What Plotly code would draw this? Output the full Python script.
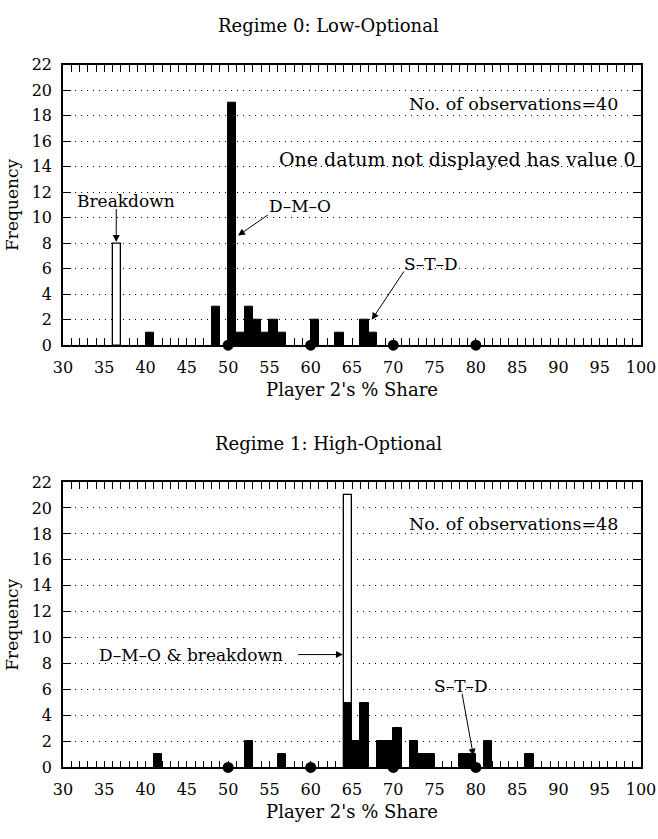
import plotly.graph_objects as go

# ---------------- data ----------------
top_title = "Regime 0: Low-Optional"
bottom_title = "Regime 1: High-Optional"
x_title = "Player 2's % Share"
y_title = "Frequency"

x_tick_labels = ["30", "35", "40", "45", "50", "55", "60", "65", "70", "75", "80", "85", "90", "95", "100"]
y_tick_labels = ["0", "2", "4", "6", "8", "10", "12", "14", "16", "18", "20", "22"]

# Regime 0 (bins start at the listed value, width 1)
top_open_bins = [36]
top_open_freq = [8]
top_solid_bins = [40, 48, 50, 51, 52, 53, 54, 55, 56, 60, 63, 66, 67]
top_solid_freq = [1, 3, 19, 1, 3, 2, 1, 2, 1, 2, 1, 2, 1]
top_points = [50, 60, 70, 80]

# Regime 1
bottom_open_bins = [64]
bottom_open_freq = [21]
bottom_solid_bins = [41, 52, 56, 64, 65, 66, 68, 69, 70, 72, 73, 74, 78, 79, 81, 86]
bottom_solid_freq = [1, 2, 1, 5, 2, 5, 2, 2, 3, 2, 1, 1, 1, 1, 2, 1]
bottom_points = [50, 60, 70, 80]

# ---------------- figure ----------------
FONT = "DejaVu Serif"
W, H = 658, 839
fig = go.Figure()

def centers(bins):
    return [b + 0.5 for b in bins]

def add_panel(xa, ya, open_bins, open_freq, solid_bins, solid_freq, points):
    fig.add_trace(go.Bar(x=centers(open_bins), y=open_freq, width=1,
                         marker=dict(color="white", line=dict(color="black", width=1.3)),
                         xaxis=xa, yaxis=ya, showlegend=False))
    fig.add_trace(go.Bar(x=centers(solid_bins), y=solid_freq, width=1,
                         marker=dict(color="black", line=dict(color="black", width=1)),
                         xaxis=xa, yaxis=ya, showlegend=False))
    fig.add_trace(go.Scatter(x=points, y=[0] * len(points), mode="markers",
                             marker=dict(color="black", size=11),
                             cliponaxis=False, xaxis=xa, yaxis=ya, showlegend=False))

add_panel("x", "y", top_open_bins, top_open_freq, top_solid_bins, top_solid_freq, top_points)
add_panel("x2", "y2", bottom_open_bins, bottom_open_freq, bottom_solid_bins, bottom_solid_freq, bottom_points)

x_lo, x_hi = int(x_tick_labels[0]), int(x_tick_labels[-1])
x_tickvals = list(range(x_lo, x_hi + 1))
x_ticktext = [str(v) if str(v) in x_tick_labels else "" for v in x_tickvals]
y_tickvals = [int(v) for v in y_tick_labels]

def px_dom(top_px, bot_px):
    return [1 - bot_px / H, 1 - top_px / H]

xcommon = dict(range=[x_lo, x_hi], tickvals=x_tickvals, ticktext=x_ticktext,
               ticks="inside", ticklen=7, tickwidth=1, tickcolor="black",
               showline=True, linecolor="black", linewidth=1.6, mirror="ticks",
               showgrid=False, zeroline=False, ticklabelstandoff=7,
               tickfont=dict(family=FONT, size=16, color="black"),
               title=dict(text=x_title, font=dict(family=FONT, size=18, color="black"), standoff=7))
ycommon = dict(range=[0, 22], tickvals=y_tickvals, ticktext=y_tick_labels,
               ticks="inside", ticklen=8, tickwidth=1.2, tickcolor="black",
               showline=True, linecolor="black", linewidth=1.6, mirror="ticks",
               showgrid=True, gridcolor="black", gridwidth=1.4, griddash="1.4px,4.6px",
               zeroline=False, ticklabelstandoff=6,
               tickfont=dict(family=FONT, size=16, color="black"),
               title=dict(text=y_title, font=dict(family=FONT, size=17, color="black"), standoff=9))

fig.update_layout(
    width=W, height=H,
    margin=dict(l=63, r=17, t=0, b=0),
    paper_bgcolor="white", plot_bgcolor="white",
    barmode="overlay", bargap=0,
    xaxis=dict(domain=[0, 1], anchor="y", **xcommon),
    yaxis=dict(domain=px_dom(57, 344), anchor="x", **ycommon),
    xaxis2=dict(domain=[0, 1], anchor="y2", **xcommon),
    yaxis2=dict(domain=px_dom(484, 776), anchor="x2", **ycommon),
    font=dict(family=FONT, color="black"),
)

ann_font = dict(family=FONT, size=17, color="black")
arrow = dict(showarrow=True, arrowhead=2, arrowsize=1.4, arrowwidth=1, arrowcolor="black")
annotations = [
    dict(text=top_title, xref="paper", yref="paper", x=0.46, y=1 - 17 / H, showarrow=False,
         font=dict(family=FONT, size=18, color="black"), xanchor="center", yanchor="middle"),
    dict(text=bottom_title, xref="paper", yref="paper", x=0.46, y=1 - 445 / H, showarrow=False,
         font=dict(family=FONT, size=18, color="black"), xanchor="center", yanchor="middle"),
    # top panel
    dict(text="No. of observations=40", xref="x", yref="y", x=97.4, y=18.9, showarrow=False,
         xanchor="right", yanchor="middle", font=dict(family=FONT, size=17.5, color="black")),
    dict(text="One datum not displayed has value 0", xref="x", yref="y", x=99.6, y=14.6, showarrow=False,
         xanchor="right", yanchor="middle", font=dict(family=FONT, size=19, color="black")),
    dict(text="Breakdown", xref="x", yref="y", x=31.4, y=11.3, showarrow=False,
         xanchor="left", yanchor="middle", font=ann_font),
    dict(text="", xref="x", yref="y", x=36.45, y=8.1, ax=36.45, ay=10.8, axref="x", ayref="y", **arrow),
    dict(text="D\u2013M\u2013O", xref="x", yref="y", x=54.7, y=10.9, showarrow=False,
         xanchor="left", yanchor="middle", font=ann_font),
    dict(text="", xref="x", yref="y", x=51.2, y=8.6, ax=55.0, ay=10.3, axref="x", ayref="y", **arrow),
    dict(text="S\u2013T\u2013D", xref="x", yref="y", x=71.1, y=6.4, showarrow=False,
         xanchor="left", yanchor="middle", font=ann_font),
    dict(text="", xref="x", yref="y", x=67.4, y=2.0, ax=71.4, ay=5.9, axref="x", ayref="y", **arrow),
    # bottom panel
    dict(text="No. of observations=48", xref="x2", yref="y2", x=97.4, y=18.8, showarrow=False,
         xanchor="right", yanchor="middle", font=dict(family=FONT, size=17.5, color="black")),
    dict(text="D\u2013M\u2013O &amp; breakdown", xref="x2", yref="y2", x=34.1, y=8.7, showarrow=False,
         xanchor="left", yanchor="middle", font=ann_font),
    dict(text="", xref="x2", yref="y2", x=63.9, y=8.7, ax=58.3, ay=8.7, axref="x2", ayref="y2", **arrow),
    dict(text="S\u2013T\u2013D", xref="x2", yref="y2", x=74.7, y=6.3, showarrow=False,
         xanchor="left", yanchor="middle", font=ann_font),
    dict(text="", xref="x2", yref="y2", x=79.7, y=0.9, ax=78.3, ay=5.8, axref="x2", ayref="y2", **arrow),
]
fig.update_layout(annotations=annotations)

fig.write_html("out.html")
